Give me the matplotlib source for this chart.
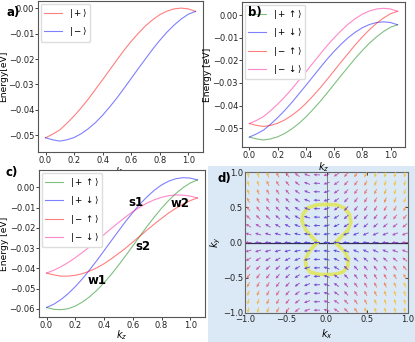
import numpy as np
import matplotlib
matplotlib.use("Agg")
import matplotlib.pyplot as plt
from matplotlib.colors import LinearSegmentedColormap, Normalize
from matplotlib.patches import Rectangle

# k_z grid shared by the band plots
kz = [0.00, 0.05, 0.10, 0.15, 0.20, 0.25, 0.30, 0.35, 0.40, 0.45, 0.50,
      0.55, 0.60, 0.65, 0.70, 0.75, 0.80, 0.85, 0.90, 0.95, 1.00, 1.05]

# panel a) bands
a_plus = [-0.0510, -0.0496, -0.0479, -0.0453, -0.0424, -0.0392, -0.0357, -0.0319,
          -0.0281, -0.0242, -0.0203, -0.0165, -0.0130, -0.0098, -0.0069, -0.0045,
          -0.0025, -0.0011, -0.0002, 0.0001, -0.0002, -0.0012]
a_minus = [-0.0510, -0.0518, -0.0523, -0.0518, -0.0509, -0.0494, -0.0474, -0.0450,
           -0.0421, -0.0388, -0.0353, -0.0315, -0.0276, -0.0237, -0.0199, -0.0161,
           -0.0126, -0.0094, -0.0066, -0.0042, -0.0023, -0.0012]

# panel b) bands
b_pu = [-0.0540, -0.0548, -0.0553, -0.0548, -0.0539, -0.0524, -0.0504, -0.0480,
        -0.0451, -0.0418, -0.0383, -0.0345, -0.0306, -0.0267, -0.0229, -0.0191,
        -0.0156, -0.0124, -0.0096, -0.0072, -0.0053, -0.0042]
b_pd = [-0.0540, -0.0526, -0.0509, -0.0483, -0.0454, -0.0422, -0.0387, -0.0349,
        -0.0311, -0.0272, -0.0233, -0.0195, -0.0160, -0.0128, -0.0099, -0.0075,
        -0.0055, -0.0041, -0.0032, -0.0029, -0.0032, -0.0042]
b_mu = [-0.0480, -0.0488, -0.0493, -0.0488, -0.0479, -0.0464, -0.0444, -0.0420,
        -0.0391, -0.0358, -0.0323, -0.0285, -0.0246, -0.0207, -0.0169, -0.0131,
        -0.0096, -0.0064, -0.0036, -0.0012, 0.0007, 0.0018]
b_md = [-0.0480, -0.0466, -0.0449, -0.0423, -0.0394, -0.0362, -0.0327, -0.0289,
        -0.0251, -0.0212, -0.0173, -0.0135, -0.0100, -0.0068, -0.0039, -0.0015,
        0.0005, 0.0019, 0.0028, 0.0031, 0.0028, 0.0018]

# panel c) bands
c_pu = [-0.0593, -0.0602, -0.0604, -0.0599, -0.0586, -0.0566, -0.0540, -0.0508,
        -0.0471, -0.0430, -0.0385, -0.0338, -0.0289, -0.0240, -0.0192, -0.0146,
        -0.0103, -0.0064, -0.0030, -0.0001, 0.0022, 0.0037]
c_pd = [-0.0593, -0.0577, -0.0554, -0.0525, -0.0490, -0.0451, -0.0407, -0.0361,
        -0.0313, -0.0264, -0.0216, -0.0168, -0.0124, -0.0082, -0.0046, -0.0014,
        0.0012, 0.0031, 0.0043, 0.0048, 0.0046, 0.0037]
c_mu = [-0.0423, -0.0432, -0.0438, -0.0438, -0.0434, -0.0426, -0.0413, -0.0397,
        -0.0377, -0.0353, -0.0327, -0.0300, -0.0270, -0.0240, -0.0210, -0.0181,
        -0.0153, -0.0126, -0.0103, -0.0082, -0.0065, -0.0052]
c_md = [-0.0423, -0.0409, -0.0392, -0.0371, -0.0347, -0.0321, -0.0293, -0.0263,
        -0.0233, -0.0203, -0.0174, -0.0146, -0.0120, -0.0097, -0.0077, -0.0061,
        -0.0049, -0.0041, -0.0037, -0.0038, -0.0043, -0.0052]

# crossing labels in c)
pt_names = ['s1', 's2', 'w1', 'w2']
pt_kz = [0.62, 0.67, 0.35, 0.93]
pt_E = [-0.0075, -0.029, -0.0458, -0.0077]

# panel d) contour (yellow)
cont_kx = [-0.115, -0.17, -0.25, -0.30, -0.29, -0.23, -0.12, 0.0, 0.12, 0.22, 0.28,
           0.30, 0.26, 0.17, 0.11, 0.16, 0.23, 0.27, 0.26, 0.20, 0.10, 0.0, -0.10,
           -0.20, -0.25, -0.26, -0.22, -0.16, -0.115]
cont_ky = [0.0, 0.07, 0.17, 0.30, 0.40, 0.49, 0.535, 0.54, 0.535, 0.49, 0.40,
           0.29, 0.17, 0.07, 0.0, -0.06, -0.14, -0.24, -0.34, -0.42, -0.45, -0.455,
           -0.45, -0.42, -0.34, -0.25, -0.14, -0.06, 0.0]

labels_a = [r'$|+\rangle$', r'$|-\rangle$']
labels_bc = [r'$|+\uparrow\rangle$', r'$|+\downarrow\rangle$',
             r'$|-\uparrow\rangle$', r'$|-\downarrow\rangle$']
cols = [(0, 0.5, 0), 'blue', 'red', 'deeppink']

W, H = 415, 342
fig = plt.figure(figsize=(W / 100, H / 100), dpi=100)


def box(l, t, r, b):
    return [l / W, 1 - b / H, (r - l) / W, (b - t) / H]


def style(ax, ylabel, ylim, yticks, xpad=0):
    ax.set_xlim(-0.0525, 1.1025)
    ax.set_ylim(*ylim)
    ax.set_xticks([0, 0.2, 0.4, 0.6, 0.8, 1.0])
    ax.set_yticks(yticks)
    ax.tick_params(labelsize=6, length=2, width=0.6, pad=0.8, colors='#222222')
    for s in ax.spines.values():
        s.set_color('#555555')
        s.set_linewidth(0.8)
    ax.set_xlabel(r'$k_z$', fontsize=7, labelpad=xpad)
    ax.set_ylabel(ylabel, fontsize=6.6, labelpad=0.5)


def legend(ax):
    ax.legend(loc='upper left', fontsize=6.3, handlelength=2.0, labelspacing=0.6,
              borderaxespad=0.3, framealpha=1, edgecolor='#dddddd')


# a)
ax1 = fig.add_axes(box(38, 1, 203, 152))
ax1.plot(kz, a_plus, color='red', alpha=0.5, lw=0.8, label=labels_a[0])
ax1.plot(kz, a_minus, color='blue', alpha=0.5, lw=0.8, label=labels_a[1])
style(ax1, 'Energy[eV]', (-0.0566, 0.0029), [0, -0.01, -0.02, -0.03, -0.04, -0.05])
legend(ax1)

# b)
ax2 = fig.add_axes(box(242, 2, 405, 147))
for y, c, lab in zip([b_pu, b_pd, b_mu, b_md], cols, labels_bc):
    ax2.plot(kz, y, color=c, alpha=0.5, lw=0.8, label=lab)
style(ax2, 'Energy [eV]', (-0.0584, 0.0059), [0, -0.01, -0.02, -0.03, -0.04, -0.05])
legend(ax2)

# c)
ax3 = fig.add_axes(box(39, 170, 205, 317))
for y, c, lab in zip([c_pu, c_pd, c_mu, c_md], cols, labels_bc):
    ax3.plot(kz, y, color=c, alpha=0.5, lw=0.8, label=lab)
style(ax3, 'Energy [eV]', (-0.0640, 0.0086),
      [0, -0.01, -0.02, -0.03, -0.04, -0.05, -0.06], xpad=-1.5)
legend(ax3)
for n, x, y in zip(pt_names, pt_kz, pt_E):
    ax3.text(x, y, n, fontsize=8.5, fontweight='bold', ha='center', va='center')

# d) spin texture
fig.patches.append(Rectangle((208 / W, 0), 1 - 208 / W, 1 - 166 / H,
                             transform=fig.transFigure, facecolor='#dbe8f6',
                             edgecolor='none', zorder=-5))
ax4 = fig.add_axes(box(245, 172, 408, 313))
ax4.set_facecolor('#dbe8f6')
g = np.linspace(-0.96, 0.96, 17)
KX, KY = np.meshgrid(g, g)
# in-plane spin components on the grid
SX = -(0.3 + 0.8 * (KX**2 + KY**2) - 1.6 * KX**2 * KY**2)
SY = -(0.4 + 3.6 * KX) * KY
mag = np.hypot(SX, SY)
cmap = LinearSegmentedColormap.from_list(
    'mag', ['#3030d8', '#6a2ccc', '#b03aa8', '#e0507a', '#f0803f', '#f5c02a'])
ax4.plot(cont_kx, cont_ky, color='#dfe65c', lw=2.6, alpha=0.9, zorder=2,
         solid_joinstyle='round')
ax4.axhline(0, color='#303050', lw=0.9, zorder=1)
ax4.axvline(0, color='#808080', lw=0.7, zorder=1)
ax4.quiver(KX, KY, SX / mag, SY / mag, mag, cmap=cmap,
           norm=Normalize(0.2, 2.4), pivot='middle', angles='xy',
           scale_units='xy', scale=1 / 0.08, width=0.0055, headwidth=3.4,
           headlength=3.6, headaxislength=3.2, alpha=0.85, zorder=3)
ax4.set_xlim(-1, 1)
ax4.set_ylim(-1, 1)
ax4.set_xticks([-1, -0.5, 0, 0.5, 1])
ax4.set_yticks([-1, -0.5, 0, 0.5, 1])
ax4.set_xticklabels(['\u22121.0', '\u22120.5', '0.0', '0.5', '1.0'])
ax4.set_yticklabels(['\u22121.0', '\u22120.5', '0.0', '0.5', '1.0'])
ax4.tick_params(labelsize=6, direction='in', length=2.5, width=0.6, pad=1.5,
                colors='#222222', top=True, right=True)
for s in ax4.spines.values():
    s.set_color('#666666')
    s.set_linewidth(0.8)
ax4.set_xlabel(r'$k_x$', fontsize=7, labelpad=2)
ax4.set_ylabel(r'$k_y$', fontsize=7, labelpad=0)

# panel letters
fig.text(6 / W, 1 - 16 / H, 'a)', fontsize=8.5, fontweight='bold')
fig.text(248 / W, 1 - 16 / H, 'b)', fontsize=8.5, fontweight='bold')
fig.text(5 / W, 1 - 176 / H, 'c)', fontsize=8.5, fontweight='bold')
fig.text(217 / W, 1 - 182 / H, 'd)', fontsize=8.5, fontweight='bold')

fig.savefig('out.png', dpi=100)
